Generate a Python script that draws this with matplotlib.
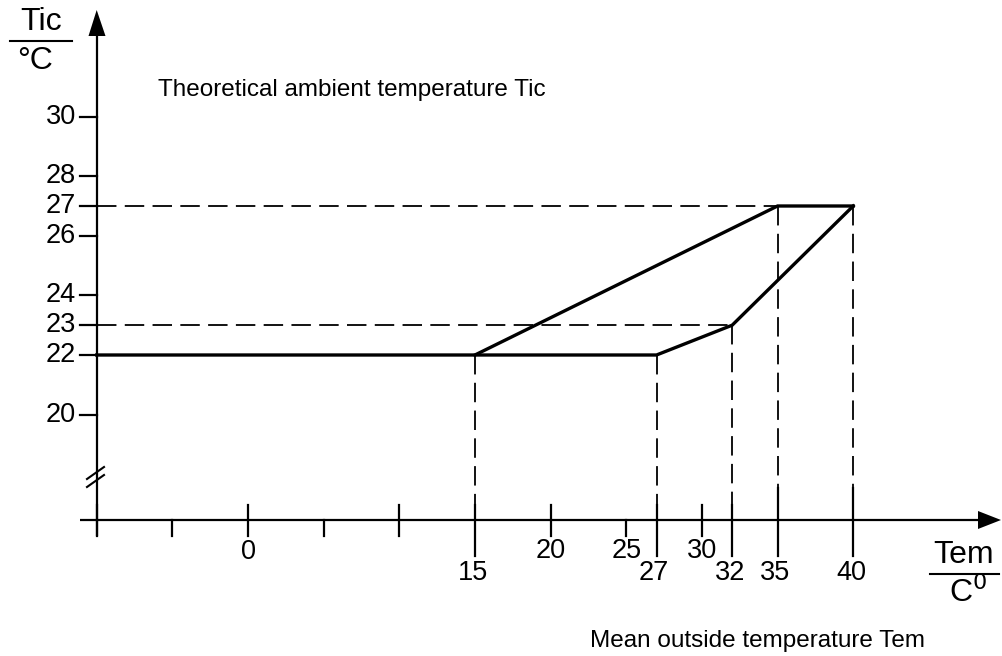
import matplotlib
matplotlib.use("Agg")
import matplotlib.pyplot as plt
from matplotlib.patches import Polygon

plt.rcParams['font.family'] = ['Liberation Sans', 'DejaVu Sans']
plt.rcParams['lines.scale_dashes'] = False

# ---- data ----
lower_x = [-10, 15, 27, 32, 40]
lower_y = [22, 22, 22, 23, 27]
upper_x = [15, 35, 40]
upper_y = [22, 27, 27]

y_ticks = [20, 22, 23, 24, 26, 27, 28, 30]
x_major = [-10, 0, 10, 20, 30]          # ticks crossing the axis
x_minor = [-5, 5, 25]                   # ticks below the axis
x_upper_labels = [20, 25, 30]
x_zero_label = [0]
x_key = [15, 27, 32, 35, 40]            # key points with long ticks / labels
h_dash = [(27, 35), (23, 32)]           # (y level, x end)
v_dash = [(15, 22), (27, 22), (32, 23), (35, 27), (40, 27)]  # (x, y top)

title_y = "Theoretical ambient temperature Tic"
title_x = "Mean outside temperature Tem"

# ---- pixel <-> data layout ----
W, H = 1002, 656
PX_X = 15.13   # px per unit x
PX_Y = 29.8    # px per unit y
X0_PX, Y22_PX = 248, 355

def dx(px):
    return (px - X0_PX) / PX_X

def dy(py):
    return 22 + (Y22_PX - py) / PX_Y

fig = plt.figure(figsize=(W / 100, H / 100), dpi=100)
ax = fig.add_axes([0, 0, 1, 1])
ax.set_xlim(dx(0), dx(W))
ax.set_ylim(dy(H), dy(0))
ax.axis('off')

axis_y = dy(520)
axis_x = -10
AX_LW = 1.6
FS = 17.5
FS_NUM = 19.5
FS_UNIT = 23

# axes lines
ax.plot([dx(80), dx(982)], [axis_y, axis_y], color='black', lw=AX_LW, solid_capstyle='butt')
ax.plot([axis_x, axis_x], [dy(536), dy(34)], color='black', lw=AX_LW, solid_capstyle='butt')
# arrow heads
ax.add_patch(Polygon([[dx(1001), axis_y], [dx(978), dy(511)], [dx(978), dy(529)]],
                     closed=True, color='black', lw=0))
ax.add_patch(Polygon([[axis_x, dy(10)], [dx(88.5), dy(36)], [dx(105.5), dy(36)]],
                     closed=True, color='black', lw=0))

# axis break
for off in (0, 8):
    ax.plot([dx(87), dx(104)], [dy(479 + off), dy(467 + off)], color='black', lw=1.5)

# y ticks and labels
for v in y_ticks:
    ax.plot([dx(80), axis_x], [v, v], color='black', lw=AX_LW)
    ax.text(dx(76), v, str(v), ha='right', va='center', fontsize=FS_NUM)

# x ticks
for v in x_major:
    ax.plot([v, v], [dy(505), dy(536)], color='black', lw=AX_LW)
for v in x_minor:
    ax.plot([v, v], [axis_y, dy(536)], color='black', lw=AX_LW)
for v in x_key:
    top = 488 if v in (35, 40) else 505
    ax.plot([v, v], [dy(top), dy(556)], color='black', lw=AX_LW)

# x labels
for v in x_zero_label:
    ax.text(v, dy(552), str(v), ha='center', va='center', fontsize=FS_NUM)
for v in x_upper_labels:
    ax.text(v, dy(551), str(v), ha='center', va='center', fontsize=FS_NUM)
for v in x_key:
    ax.text(v - 0.15, dy(573), str(v), ha='center', va='center', fontsize=FS_NUM)

# dashed helper lines
dash = (0, (14, 6))
for yv, xe in h_dash:
    ax.plot([axis_x, xe], [yv, yv], color='black', lw=1.3, linestyle=dash)
for xv, yt in v_dash:
    ax.plot([xv, xv], [yt, axis_y], color='black', lw=1.3, linestyle=dash)

# curves
ax.plot(lower_x, lower_y, color='black', lw=2.4, solid_joinstyle='miter')
ax.plot(upper_x, upper_y, color='black', lw=2.4, solid_joinstyle='miter')

# texts
ax.text(dx(158), dy(90), title_y, ha='left', va='center', fontsize=FS)
ax.text(dx(758), dy(641), title_x, ha='center', va='center', fontsize=FS)

# unit fractions
ax.text(dx(41), dy(22), "Tic", ha='center', va='center', fontsize=FS_UNIT)
ax.plot([dx(10), dx(72)], [dy(41), dy(41)], color='black', lw=1.5)
ax.text(dx(35), dy(61), "°C", ha='center', va='center', fontsize=FS_UNIT)

ax.text(dx(964), dy(555), "Tem", ha='center', va='center', fontsize=FS_UNIT)
ax.plot([dx(930), dx(999)], [dy(574), dy(574)], color='black', lw=1.5)
ax.text(dx(968), dy(593), r"C$^{0}$", ha='center', va='center', fontsize=FS_UNIT)

fig.savefig("out.png", dpi=100)
